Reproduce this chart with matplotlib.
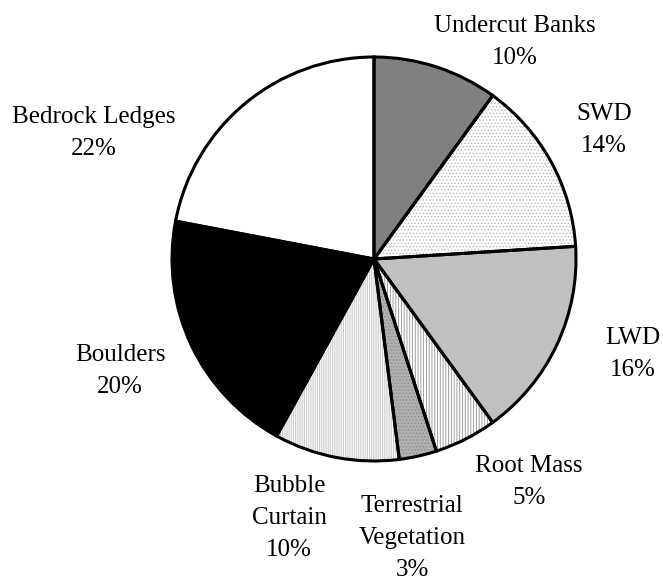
import matplotlib.pyplot as plt

# Habitat cover types, clockwise from 12 o'clock
categories = ['Undercut Banks', 'SWD', 'LWD', 'Root Mass',
              'Terrestrial\nVegetation', 'Bubble\nCurtain', 'Boulders', 'Bedrock Ledges']
percent = [10, 14, 16, 5, 3, 10, 20, 22]

# fill / hatch styling per wedge
faces = ['#808080', 'white', '#c0c0c0', 'white', '#b0b0b0', 'white', 'black', 'white']
hatches = [None, '.....', None, '||||||', '.....', '|||||||||', None, None]
hatch_cols = ['#808080', '#b8b8b8', '#c0c0c0', '#909090', '#8c8c8c', '#c4c4c4', 'black', 'white']

# label anchor points (pixels, origin at top-left)
label_xy = [(515, 42), (604, 130), (633, 354), (529, 482),
            (412, 538), (289, 518), (120, 371), (94, 133)]

W, H = 663, 580
cx, cy, r = 374, 259, 202

plt.rcParams['font.family'] = 'Liberation Serif'
plt.rcParams['hatch.linewidth'] = 0.6

fig = plt.figure(figsize=(W / 100, H / 100), dpi=100)
ax = fig.add_axes([0, 0, 1, 1])

# hatched fills first, then the black outlines on top
wedges, _ = ax.pie(percent, startangle=90, counterclock=False,
                   center=(cx, H - cy), radius=r, colors=faces,
                   wedgeprops=dict(linewidth=0))
for w, h, hc in zip(wedges, hatches, hatch_cols):
    w.set_edgecolor(hc)
    if h:
        w.set_hatch(h)
ax.pie(percent, startangle=90, counterclock=False,
       center=(cx, H - cy), radius=r,
       wedgeprops=dict(facecolor='none', edgecolor='black', linewidth=2.2))

for name, p, (x, y) in zip(categories, percent, label_xy):
    ax.text(x, H - y, f'{name}\n{p}%', ha='center', va='center',
            fontsize=18, linespacing=1.6)

ax.set_xlim(0, W)
ax.set_ylim(0, H)
ax.set_aspect('equal')
ax.axis('off')

fig.savefig('out.png', dpi=100)
